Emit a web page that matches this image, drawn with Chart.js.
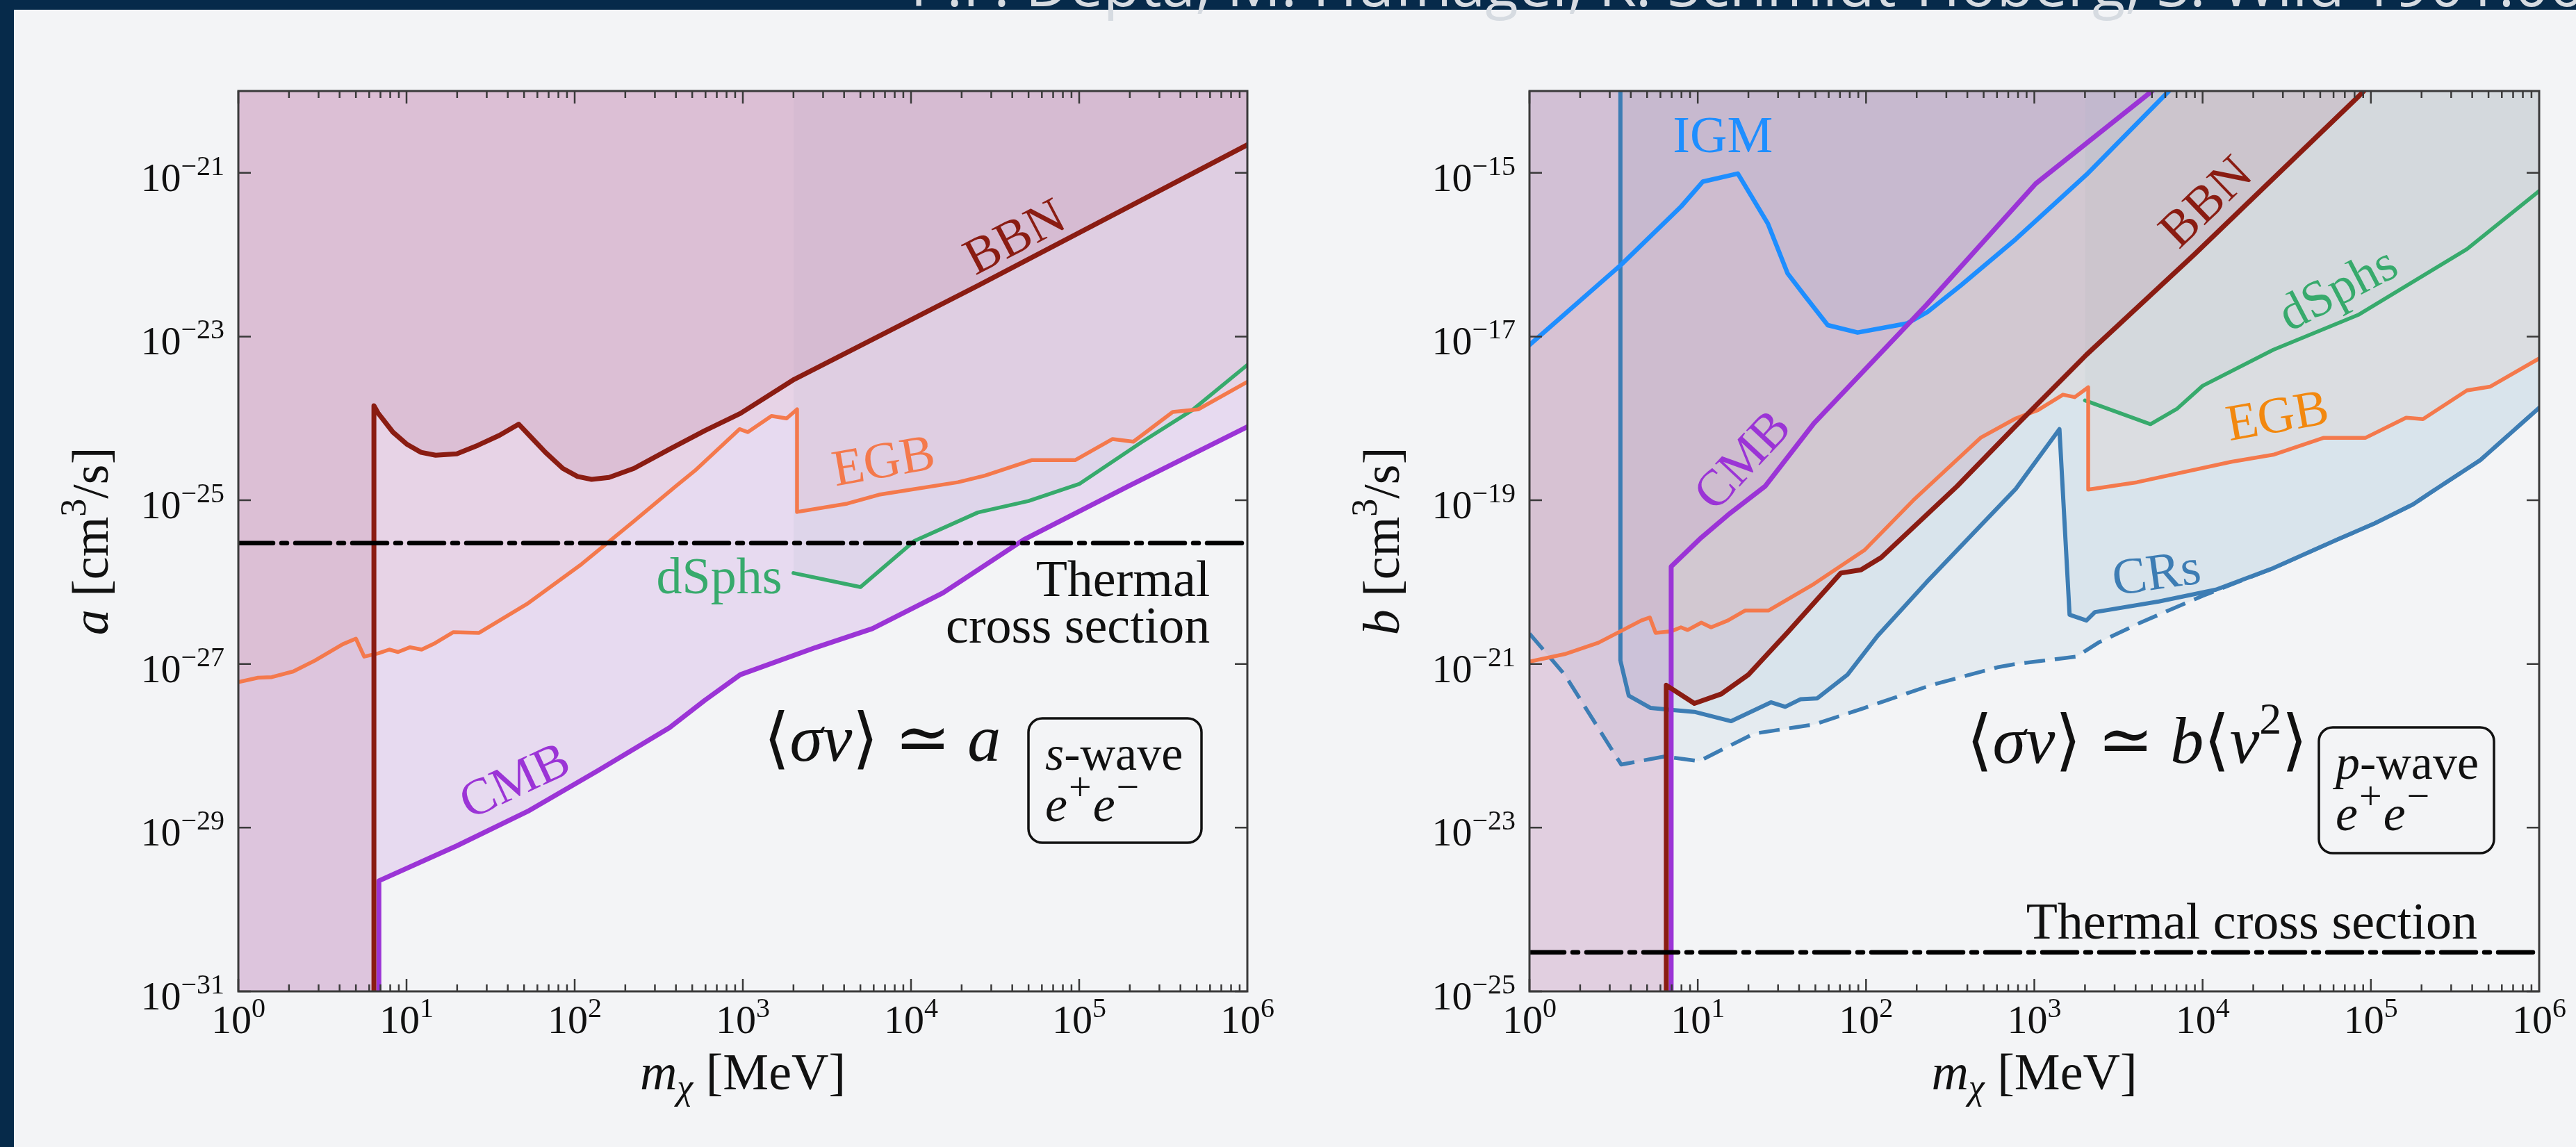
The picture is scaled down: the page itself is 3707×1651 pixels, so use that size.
<!DOCTYPE html>
<html>
<head>
<meta charset="utf-8">
<script src="https://cdn.jsdelivr.net/npm/chart.js@4.4.1/dist/chart.umd.min.js"></script>
<style>
  html, body { margin: 0; padding: 0; background: #f3f4f6; width: 3707px; height: 1651px; overflow: hidden; }
  #bandTop { position: absolute; left: 0; top: 0; width: 3707px; height: 14px; background: #062a4a; }
  #bandLeft { position: absolute; left: 0; top: 0; width: 20px; height: 1651px; background: #062a4a; }
  #authors { position: absolute; left: 1310px; top: -68px; font: 87px "Open Sans", sans-serif; line-height: 87px;
             color: #d6dbe1; white-space: nowrap; z-index: 5; }
  #c1 { position: absolute; left: 0; top: 0; }
  #c2 { position: absolute; left: 1853px; top: 0; }
</style>
</head>
<body>
<div id="bandTop"></div>
<div id="bandLeft"></div>
<div id="authors">P.F. Depta, M. Hufnagel, K. Schmidt-Hoberg, S. Wild 1901.06944</div>
<canvas id="c1" width="1853" height="1651"></canvas>
<canvas id="c2" width="1854" height="1651"></canvas>
<script>
const SERIF = '"Liberation Serif", "DejaVu Serif", serif';

const BBN = '#8a1c12';
const CMB = '#9b34d6';
const EGB = '#f4794c';
const DSPH = '#37aa6c';
const IGM = '#1e8eff';
const CRS = '#3d7db4';

const X_TICKS = [1, 10, 100, 1e3, 1e4, 1e5, 1e6];

// left panel: s-wave, <sigma v> = a
const sYTicks = [-31, -29, -27, -25, -23, -21];
const sBbnM = [6.4, 6.4, 6.8, 8.3, 10.1, 12.2, 14.9, 19.9, 26.6, 35.6, 46.5, 55, 67, 85, 104, 126, 160, 225, 366, 594, 966, 2020, 2.5e4, 1e6];
const sBbnV = [1e-31, 1.43e-24, 1.15e-24, 6.8e-25, 4.8e-25, 3.85e-25, 3.55e-25, 3.7e-25, 4.7e-25, 6.2e-25, 8.5e-25, 5.9e-25, 3.85e-25, 2.45e-25, 1.95e-25, 1.8e-25, 1.9e-25, 2.45e-25, 4.2e-25, 7.1e-25, 1.15e-24, 3.0e-24, 4.2e-23, 2.2e-21];
const sCmbM = [6.85, 6.85, 19.9, 52.5, 138, 366, 594, 966, 2690, 5890, 1.55e4, 4.68e4, 1.95e5, 1e6];
const sCmbV = [1e-31, 2.24e-30, 6.0e-30, 1.58e-29, 5.0e-29, 1.66e-28, 3.6e-28, 7.4e-28, 1.58e-27, 2.7e-27, 7.4e-27, 3.3e-26, 1.48e-25, 7.9e-25];
const sEgbM = [1, 1.31, 1.58, 2.12, 2.85, 4.17, 5.0, 5.6, 6.8, 7.9, 8.9, 10.5, 12.3, 14.8, 19, 27, 52, 110, 224, 398, 519, 955, 1070, 1480, 1820, 2100, 2100, 4170, 6460, 1.9e4, 2.75e4, 5.25e4, 9.5e4, 1.58e5, 2.1e5, 3.6e5, 5.1e5, 1e6];
const sEgbV = [6.0e-28, 6.8e-28, 6.9e-28, 8.1e-28, 1.1e-27, 1.74e-27, 2.04e-27, 1.23e-27, 1.35e-27, 1.5e-27, 1.4e-27, 1.6e-27, 1.5e-27, 1.8e-27, 2.45e-27, 2.4e-27, 5.4e-27, 1.66e-26, 5.5e-26, 1.48e-25, 2.3e-25, 7.4e-25, 6.8e-25, 1.07e-24, 1.0e-24, 1.29e-24, 7.2e-26, 9.1e-26, 1.17e-25, 1.66e-25, 2.0e-25, 3.1e-25, 3.1e-25, 5.6e-25, 5.2e-25, 1.2e-24, 1.29e-24, 2.8e-24];
const sDsphM = [2000, 5000, 1.05e4, 2.5e4, 5e4, 1e5, 2.34e5, 4.7e5, 1e6];
const sDsphV = [1.29e-26, 8.7e-27, 3.2e-26, 7.1e-26, 9.8e-26, 1.58e-25, 5.1e-25, 1.26e-24, 4.5e-24];
const sThermal = 3e-26;

// right panel: p-wave, <sigma v> = b <v^2>
const pYTicks = [-25, -23, -21, -19, -17, -15];
const pBbnM = [6.5, 6.5, 9.55, 13.8, 20, 34.3, 70.8, 93.3, 123, 347, 776, 2040, 8900, 8.5e4, 1.58e5];
const pBbnV = [1e-25, 5.5e-22, 3.3e-22, 4.3e-22, 7.4e-22, 2.45e-21, 1.29e-20, 1.41e-20, 2.0e-20, 1.48e-19, 8.1e-19, 6.0e-18, 1e-16, 8.7e-15, 3.2e-14];
const pCmbM = [6.95, 6.95, 10.5, 15.1, 25.1, 49, 229, 1020, 2040, 5010, 7940];
const pCmbV = [1e-25, 1.55e-20, 3.5e-20, 6.6e-20, 1.48e-19, 8.7e-19, 2.45e-17, 7.4e-16, 2.3e-15, 1e-14, 2.5e-14];
const pIgmM = [1, 3.52, 7.98, 10.7, 17.3, 26.1, 34.2, 43, 59.2, 89.1, 176, 232, 365, 776, 2040, 6310, 1e4];
const pIgmV = [7.9e-18, 7.6e-17, 3.9e-16, 7.8e-16, 9.8e-16, 2.4e-16, 5.9e-17, 3.2e-17, 1.38e-17, 1.12e-17, 1.45e-17, 2.0e-17, 4.2e-17, 1.55e-16, 9.5e-16, 1e-14, 2.5e-14];
const pEgbM = [1, 1.62, 2.57, 4.62, 5.19, 5.62, 6.92, 7.94, 8.71, 10.5, 12.0, 15.1, 19.1, 26.3, 49, 97.7, 191, 479, 776, 1050, 1480, 1740, 2090, 2090, 4070, 1.48e4, 2.63e4, 5.25e4, 9.3e4, 1.62e5, 2.04e5, 3.72e5, 5.13e5, 1e6];
const pEgbV = [1.07e-21, 1.32e-21, 1.82e-21, 3.4e-21, 3.7e-21, 2.4e-21, 2.5e-21, 2.8e-21, 2.6e-21, 3.2e-21, 2.8e-21, 3.4e-21, 4.5e-21, 4.5e-21, 9.5e-21, 2.45e-20, 1e-19, 5.8e-19, 1e-18, 1.26e-18, 1.95e-18, 1.82e-18, 2.4e-18, 1.35e-19, 1.66e-19, 2.95e-19, 3.6e-19, 5.8e-19, 5.8e-19, 1.02e-18, 9.8e-19, 2.2e-18, 2.45e-18, 5.4e-18];
const pDsphM = [2000, 4900, 7080, 1e4, 2.63e4, 8.5e4, 3.72e5, 1e6];
const pDsphV = [1.66e-18, 8.5e-19, 1.32e-18, 2.5e-18, 6.9e-18, 1.86e-17, 1.17e-16, 6.0e-16];
const pCrM = [3.47, 3.47, 3.89, 5.25, 6.92, 9.55, 15.8, 27.2, 33.1, 40.7, 51.3, 77.6, 117, 229, 479, 776, 1410, 1620, 2040, 2290, 5500, 1.2e4, 2.63e4, 6.3e4, 1.05e5, 1.78e5, 2.29e5, 4.47e5, 1e6];
const pCrV = [3e-14, 1.1e-21, 4.1e-22, 2.9e-22, 2.75e-22, 2.6e-22, 2.0e-22, 3.4e-22, 3.0e-22, 3.7e-22, 3.8e-22, 7.4e-22, 2.2e-21, 1e-20, 4.9e-20, 1.38e-19, 7.4e-19, 4.0e-21, 3.4e-21, 4.3e-21, 5.8e-21, 8.1e-21, 1.48e-20, 3.3e-20, 5.2e-20, 8.9e-20, 1.26e-19, 3.1e-19, 1.35e-18];
const pCrDashM = [1, 1.62, 3.51, 6.31, 10.2, 13.8, 21.6, 49, 97.7, 243, 603, 776, 1780, 2400, 4270, 1e4, 2.63e4, 6.3e4, 1.05e5, 1.78e5, 2.29e5, 4.47e5, 1e6];
const pCrDashV = [2.35e-21, 7.4e-22, 5.9e-23, 7.4e-23, 6.5e-23, 8.9e-23, 1.41e-22, 1.82e-22, 2.9e-22, 5.5e-22, 9.1e-22, 1e-21, 1.23e-21, 1.82e-21, 3.2e-21, 6.8e-21, 1.48e-20, 3.3e-20, 5.2e-20, 8.9e-20, 1.26e-19, 3.1e-19, 1.35e-18];
const pThermal = 3e-25;

const FILL = {
  bbn: 'rgba(150,50,90,0.12)',
  cmbS: 'rgba(153,50,204,0.13)',
  cmbP: 'rgba(153,50,204,0.08)',
  egb: 'rgba(244,122,78,0.07)',
  dsph: 'rgba(70,160,150,0.06)',
  igm: 'rgba(30,144,255,0.04)',
  crs: 'rgba(70,130,180,0.075)',
};

function pts(ms, vs) { return ms.map((m, i) => ({ x: m, y: vs[i] })); }

function curve(ms, vs, color, width, order, extra) {
  return Object.assign({ data: pts(ms, vs), borderColor: color, borderWidth: width, fill: false, order: order }, extra || {});
}

// region above a curve; "lead" extends the region to the left edge at the given value
function region(ms, vs, color, lead) {
  const d = pts(ms, vs);
  if (lead !== undefined) d.unshift({ x: 1, y: lead });
  return { data: d, borderColor: 'rgba(0,0,0,0)', borderWidth: 0, backgroundColor: color, fill: 'end', order: 20 };
}

function thermalLine(v) {
  return { data: [{ x: 1, y: v }, { x: 1e6, y: v }], borderColor: '#000', borderWidth: 6.5,
           borderDash: [50, 12, 8, 12], fill: false, order: 0 };
}

function drawRuns(ctx, x, y, runs, align) {
  const fontOf = r => (r.it ? 'italic ' : '') + r.px + 'px ' + SERIF;
  let w = 0;
  for (const r of runs) { ctx.font = fontOf(r); w += ctx.measureText(r.t).width + (r.gap || 0); }
  let cx = align === 'right' ? x - w : align === 'center' ? x - w / 2 : x;
  ctx.textAlign = 'left';
  ctx.textBaseline = 'alphabetic';
  for (const r of runs) {
    ctx.font = fontOf(r);
    ctx.fillText(r.t, cx, y + (r.dy || 0));
    cx += ctx.measureText(r.t).width + (r.gap || 0);
  }
}

function expStr(e) { return e < 0 ? '\u2212' + (-e) : String(e); }

const deco = {
  id: 'deco',
  afterDraw(chart, args, o) {
    const { ctx, chartArea: a, scales: { x, y } } = chart;
    ctx.save();

    // curve labels
    for (const L of o.labels) {
      ctx.save();
      ctx.translate(x.getPixelForValue(L.m), y.getPixelForValue(L.s));
      ctx.rotate(L.rot * Math.PI / 180);
      ctx.font = '74px ' + SERIF;
      ctx.fillStyle = L.color;
      ctx.textAlign = 'center';
      ctx.textBaseline = 'middle';
      ctx.fillText(L.text, 0, 0);
      ctx.restore();
    }

    // thermal cross section text
    ctx.fillStyle = '#111';
    for (const T of o.thermalText) {
      drawRuns(ctx, x.getPixelForValue(T.m), y.getPixelForValue(T.s), [{ t: T.text, px: 74 }], 'right');
    }

    // formula
    drawRuns(ctx, a.left + o.formula.dx, a.top + o.formula.dy, o.formula.runs, 'left');

    // boxed note
    const b = o.box;
    ctx.strokeStyle = '#111';
    ctx.lineWidth = 3.5;
    ctx.beginPath();
    ctx.roundRect(a.left + b.dx, a.top + b.dy, b.w, b.h, 20);
    ctx.stroke();
    drawRuns(ctx, a.left + b.dx + 24, a.top + b.dy + 74, [{ t: b.wave, it: true, px: 70 }, { t: '-wave', px: 70 }], 'left');
    drawRuns(ctx, a.left + b.dx + 24, a.top + b.dy + 148,
      [{ t: 'e', it: true, px: 72, gap: 2 }, { t: '+', px: 58, dy: -30, gap: 2 }, { t: 'e', it: true, px: 72, gap: 2 }, { t: '\u2212', px: 58, dy: -30 }], 'left');

    // frame
    ctx.strokeStyle = '#3a3a3a';
    ctx.lineWidth = 3;
    ctx.strokeRect(a.left, a.top, a.right - a.left, a.bottom - a.top);

    // inward ticks
    ctx.lineWidth = 2.5;
    ctx.beginPath();
    for (let d = 0; d < 6; d++) {
      for (let k = 1; k <= 9; k++) {
        const px = x.getPixelForValue(k * Math.pow(10, d));
        const len = k === 1 ? 18 : 10;
        ctx.moveTo(px, a.bottom); ctx.lineTo(px, a.bottom - len);
        ctx.moveTo(px, a.top); ctx.lineTo(px, a.top + len);
      }
    }
    for (const e of o.yTicks) {
      const py = y.getPixelForValue(Math.pow(10, e));
      ctx.moveTo(a.left, py); ctx.lineTo(a.left + 18, py);
      ctx.moveTo(a.right, py); ctx.lineTo(a.right - 18, py);
    }
    ctx.stroke();

    // tick labels
    ctx.fillStyle = '#111';
    for (const v of X_TICKS) {
      const e = Math.round(Math.log10(v));
      drawRuns(ctx, x.getPixelForValue(v), a.bottom + 60, [{ t: '10', px: 58 }, { t: expStr(e), px: 40, dy: -23 }], 'center');
    }
    for (const e of o.yTicks) {
      const py = y.getPixelForValue(Math.pow(10, e));
      drawRuns(ctx, a.left - 20, py + 26, [{ t: '10', px: 58 }, { t: expStr(e), px: 40, dy: -23 }], 'right');
    }

    // axis titles
    drawRuns(ctx, (a.left + a.right) / 2, a.bottom + 141,
      [{ t: 'm', it: true, px: 74 }, { t: '\u03c7', it: true, px: 52, dy: 14 }, { t: ' [MeV]', px: 74 }], 'center');
    ctx.save();
    ctx.translate(a.left - 188, (a.top + a.bottom) / 2);
    ctx.rotate(-Math.PI / 2);
    drawRuns(ctx, 0, 0, [{ t: o.yVar, it: true, px: 74 }, { t: ' [cm', px: 74 }, { t: '3', px: 52, dy: -32 }, { t: '/s]', px: 74 }], 'center');
    ctx.restore();

    ctx.restore();
  }
};

function makeChart(id, pad, yMin, yMax, datasets, decoOpts) {
  return new Chart(document.getElementById(id), {
    type: 'line',
    data: { datasets: datasets },
    options: {
      responsive: false,
      animation: false,
      events: [],
      layout: { padding: pad },
      elements: { point: { radius: 0 }, line: { tension: 0, borderCapStyle: 'round', borderJoinStyle: 'round' } },
      scales: {
        x: { type: 'logarithmic', min: 1, max: 1e6, display: false },
        y: { type: 'logarithmic', min: yMin, max: yMax, display: false }
      },
      plugins: { legend: { display: false }, tooltip: { enabled: false }, deco: decoOpts }
    },
    plugins: [deco]
  });
}

// Chart 1 - s-wave
makeChart('c1', { left: 343, right: 58, top: 131, bottom: 224 }, 1e-31, 1e-20, [
  thermalLine(sThermal),
  curve(sBbnM, sBbnV, BBN, 7, 3),
  curve(sCmbM, sCmbV, CMB, 7, 4),
  curve(sEgbM, sEgbV, EGB, 5.5, 5),
  curve(sDsphM, sDsphV, DSPH, 5.5, 6),
  region(sBbnM, sBbnV, FILL.bbn, 1e-31),
  region(sCmbM, sCmbV, FILL.cmbS, 1e-31),
  region(sEgbM, sEgbV, FILL.egb),
  region(sDsphM, sDsphV, FILL.dsph),
], {
  yTicks: sYTicks,
  yVar: 'a',
  labels: [
    { text: 'BBN', m: 4.2e4, s: 1.55e-22, rot: -27.7, color: BBN },
    { text: 'EGB', m: 6900, s: 2.8e-25, rot: -10, color: EGB },
    { text: 'dSphs', m: 724, s: 1.07e-26, rot: 0, color: DSPH },
    { text: 'CMB', m: 44.6, s: 3.5e-29, rot: -25, color: CMB },
  ],
  thermalText: [
    { text: 'Thermal', m: 6.0e5, s: 6.8e-27 },
    { text: 'cross section', m: 6.0e5, s: 1.82e-27 },
  ],
  formula: { dx: 756, dy: 964, runs: [
    { t: '\u27e8', px: 96 }, { t: '\u03c3v', it: true, px: 96 }, { t: '\u27e9', px: 96 },
    { t: ' \u2243 ', px: 96 }, { t: 'a', it: true, px: 96 }] },
  box: { dx: 1137, dy: 903, w: 249, h: 179, wave: 's' }
});

// Chart 2 - p-wave
makeChart('c2', { left: 348, right: 53, top: 131, bottom: 224 }, 1e-25, 1e-14, [
  thermalLine(pThermal),
  curve(pBbnM, pBbnV, BBN, 7, 3),
  curve(pCmbM, pCmbV, CMB, 7, 4),
  curve(pIgmM, pIgmV, IGM, 6.5, 5),
  curve(pEgbM, pEgbV, EGB, 5.5, 6),
  curve(pDsphM, pDsphV, DSPH, 5.5, 7),
  curve(pCrM, pCrV, CRS, 6, 8),
  curve(pCrDashM, pCrDashV, CRS, 5.5, 9, { borderDash: [30, 14], borderCapStyle: 'butt' }),
  region(pBbnM, pBbnV, FILL.bbn, 1e-25),
  region(pCmbM, pCmbV, FILL.cmbP, 1e-25),
  region(pIgmM, pIgmV, FILL.igm),
  region(pEgbM, pEgbV, FILL.egb),
  region(pDsphM, pDsphV, FILL.dsph),
  region(pCrM, pCrV, FILL.crs),
  region(pCrDashM, pCrDashV, FILL.crs),
], {
  yTicks: pYTicks,
  yVar: 'b',
  labels: [
    { text: 'IGM', m: 14.1, s: 2.6e-15, rot: 0, color: IGM },
    { text: 'CMB', m: 18.9, s: 2.95e-19, rot: -47, color: CMB },
    { text: 'BBN', m: 1.07e4, s: 4.2e-16, rot: -44, color: BBN },
    { text: 'dSphs', m: 6.46e4, s: 3.6e-17, rot: -27.5, color: DSPH },
    { text: 'EGB', m: 2.8e4, s: 1e-18, rot: -10, color: '#f2880f' },
    { text: 'CRs', m: 5340, s: 1.2e-20, rot: -8, color: CRS },
  ],
  thermalText: [
    { text: 'Thermal cross section', m: 4.29e5, s: 4.4e-25 },
  ],
  formula: { dx: 629, dy: 967, runs: [
    { t: '\u27e8', px: 96 }, { t: '\u03c3v', it: true, px: 96 }, { t: '\u27e9', px: 96 },
    { t: ' \u2243 ', px: 96 }, { t: 'b', it: true, px: 96 }, { t: '\u27e8', px: 96 },
    { t: 'v', it: true, px: 96 }, { t: '2', px: 64, dy: -42 }, { t: '\u27e9', px: 96 }] },
  box: { dx: 1136, dy: 916, w: 252, h: 181, wave: 'p' }
});
</script>
</body>
</html>
